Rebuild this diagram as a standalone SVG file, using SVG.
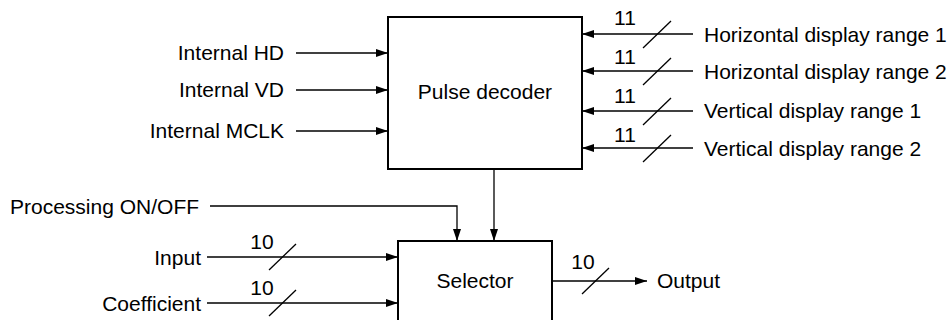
<svg xmlns="http://www.w3.org/2000/svg" width="951" height="320" viewBox="0 0 951 320">
<defs>
<marker id="ah" markerUnits="userSpaceOnUse" markerWidth="13" markerHeight="9" refX="12" refY="4" orient="auto">
<path d="M0,0 L12,4 L0,8 z" fill="#000"/>
</marker>
<style>
text{font-family:"Liberation Sans",Arial,sans-serif;font-size:21px;fill:#000}
.box{fill:#fff;stroke:#000;stroke-width:2}
.ln{fill:none;stroke:#000;stroke-width:1.3}
.ar{marker-end:url(#ah)}
.r{text-anchor:end}
.m{text-anchor:middle}
</style>
</defs>
<rect width="951" height="320" fill="#fff"/>
<g id="connectors">
<line class="ln ar" x1="296" y1="53" x2="388" y2="53"/>
<line class="ln ar" x1="296" y1="90" x2="388" y2="90"/>
<line class="ln ar" x1="296" y1="131" x2="388" y2="131"/>
<line class="ln ar" x1="693" y1="34" x2="582" y2="34"/>
<line class="ln ar" x1="693" y1="71" x2="582" y2="71"/>
<line class="ln ar" x1="693" y1="111" x2="582" y2="111"/>
<line class="ln ar" x1="693" y1="148" x2="582" y2="148"/>
<line class="ln" x1="643" y1="48" x2="671" y2="21"/>
<line class="ln" x1="643" y1="85" x2="671" y2="58"/>
<line class="ln" x1="643" y1="125" x2="671" y2="98"/>
<line class="ln" x1="643" y1="162" x2="671" y2="135"/>
<line class="ln ar" x1="494" y1="169" x2="494" y2="241"/>
<polyline class="ln ar" points="210,206 457,206 457,241"/>
<line class="ln ar" x1="207" y1="257" x2="398" y2="257"/>
<line class="ln ar" x1="207" y1="303" x2="398" y2="303"/>
<line class="ln" x1="269" y1="270" x2="296" y2="244"/>
<line class="ln" x1="269" y1="316" x2="296" y2="290"/>
<line class="ln ar" x1="552" y1="281" x2="647" y2="281"/>
<line class="ln" x1="582" y1="294" x2="609" y2="268"/>
<text class="m" x="625" y="25">11</text>
<text class="m" x="625" y="64">11</text>
<text class="m" x="625" y="103">11</text>
<text class="m" x="625" y="142">11</text>
<text class="m" x="262" y="249">10</text>
<text class="m" x="262" y="295">10</text>
<text class="m" x="583" y="269">10</text>
</g>
<g id="pulse-decoder">
<rect class="box" x="388" y="17" width="194" height="152"/>
<text class="m" x="485" y="99">Pulse decoder</text>
</g>
<g id="selector">
<rect class="box" x="398" y="241" width="154" height="90"/>
<text class="m" x="475" y="288">Selector</text>
</g>
<g id="internal-hd"><text class="r" x="284" y="60">Internal HD</text></g>
<g id="internal-vd"><text class="r" x="284" y="97">Internal VD</text></g>
<g id="internal-mclk"><text class="r" x="284" y="138">Internal MCLK</text></g>
<g id="hdr1"><text x="704" y="42">Horizontal display range 1</text></g>
<g id="hdr2"><text x="704" y="79">Horizontal display range 2</text></g>
<g id="vdr1"><text x="704" y="118">Vertical display range 1</text></g>
<g id="vdr2"><text x="704" y="156">Vertical display range 2</text></g>
<g id="processing"><text x="10" y="214">Processing ON/OFF</text></g>
<g id="input"><text class="r" x="201" y="265">Input</text></g>
<g id="coefficient"><text class="r" x="201" y="311">Coefficient</text></g>
<g id="output"><text x="657" y="288">Output</text></g>
</svg>
